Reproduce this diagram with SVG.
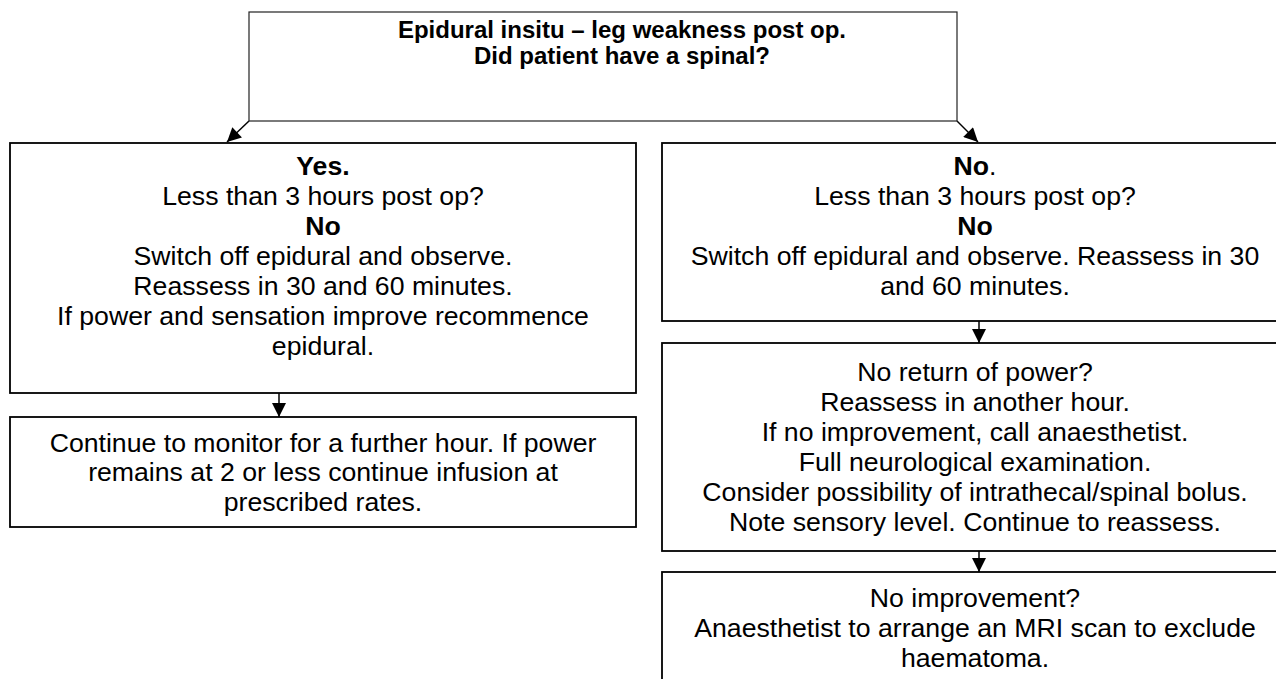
<svg xmlns="http://www.w3.org/2000/svg" width="1276" height="679" viewBox="0 0 1276 679">
<defs>
<style>
.box{fill:#fff;stroke:#000;stroke-width:1.8}
.top{fill:#fff;stroke:#222;stroke-width:1.2}
.t{font-family:"Liberation Sans",Arial,sans-serif;font-size:26.67px;fill:#000;text-anchor:middle}
.tt{font-family:"Liberation Sans",Arial,sans-serif;font-size:24px;font-weight:bold;fill:#000;text-anchor:middle}
.b{font-weight:bold}
.c{stroke:#000;stroke-width:1.5;fill:none}
</style>
<marker id="ah" viewBox="0 0 10 10" refX="10" refY="5" markerWidth="15" markerHeight="14" markerUnits="userSpaceOnUse" orient="auto">
<path d="M0,0 L10,5 L0,10 z" fill="#000"/>
</marker>
</defs>
<rect width="1276" height="679" fill="#fff"/>
<g id="connectors">
<line class="c" x1="249" y1="121" x2="227" y2="142" marker-end="url(#ah)"/>
<line class="c" x1="957" y1="121" x2="978" y2="142" marker-end="url(#ah)"/>
<line class="c" x1="279" y1="393" x2="279" y2="417" marker-end="url(#ah)"/>
<line class="c" x1="979" y1="321" x2="979" y2="343" marker-end="url(#ah)"/>
<line class="c" x1="979" y1="551" x2="979" y2="572" marker-end="url(#ah)"/>
</g>
<g id="start">
<rect class="top" x="249" y="12" width="708" height="109"/>
<text class="tt" x="622" y="38">Epidural insitu – leg weakness post op.</text>
<text class="tt" x="622" y="64">Did patient have a spinal?</text>
</g>
<g id="yes">
<rect class="box" x="10" y="143" width="626" height="250"/>
<text class="t" x="323" y="175"><tspan class="b">Yes.</tspan></text>
<text class="t" x="323" y="205">Less than 3 hours post op?</text>
<text class="t b" x="323" y="235">No</text>
<text class="t" x="323" y="265">Switch off epidural and observe.</text>
<text class="t" x="323" y="295">Reassess in 30 and 60 minutes.</text>
<text class="t" x="323" y="325">If power and sensation improve recommence</text>
<text class="t" x="323" y="355">epidural.</text>
</g>
<g id="yes-monitor">
<rect class="box" x="10" y="417" width="626" height="110"/>
<text class="t" x="323" y="452">Continue to monitor for a further hour. If power</text>
<text class="t" x="323" y="481">remains at 2 or less continue infusion at</text>
<text class="t" x="323" y="511">prescribed rates.</text>
</g>
<g id="no">
<rect class="box" x="662" y="143" width="630" height="178"/>
<text class="t" x="975" y="175"><tspan class="b">No</tspan>.</text>
<text class="t" x="975" y="205">Less than 3 hours post op?</text>
<text class="t b" x="975" y="235">No</text>
<text class="t" x="975" y="265">Switch off epidural and observe. Reassess in 30</text>
<text class="t" x="975" y="295">and 60 minutes.</text>
</g>
<g id="no-return">
<rect class="box" x="662" y="343" width="630" height="208"/>
<text class="t" x="975" y="381">No return of power?</text>
<text class="t" x="975" y="411">Reassess in another hour.</text>
<text class="t" x="975" y="441">If no improvement, call anaesthetist.</text>
<text class="t" x="975" y="471">Full neurological examination.</text>
<text class="t" x="975" y="501">Consider possibility of intrathecal/spinal bolus.</text>
<text class="t" x="975" y="531">Note sensory level. Continue to reassess.</text>
</g>
<g id="no-improvement">
<rect class="box" x="662" y="572" width="630" height="130"/>
<text class="t" x="975" y="607">No improvement?</text>
<text class="t" x="975" y="637">Anaesthetist to arrange an MRI scan to exclude</text>
<text class="t" x="975" y="667">haematoma.</text>
</g>
</svg>
